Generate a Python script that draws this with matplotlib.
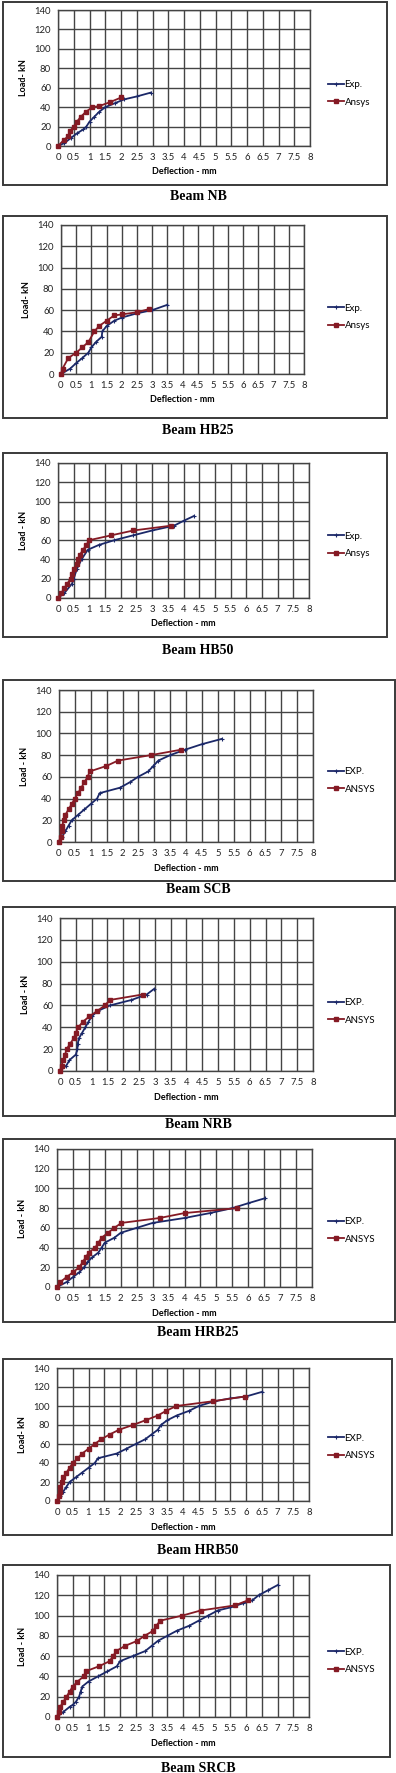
import matplotlib
matplotlib.use("Agg")
import matplotlib.pyplot as plt
from matplotlib.patches import Rectangle

# ---- data (deflection mm, load kN) ----
nb_exp_x = [0, 0.2, 0.4, 0.6, 0.8, 0.9, 1.0, 1.15, 1.3, 1.5, 1.8, 2.1, 2.5, 2.95]
nb_exp_y = [0, 3, 8, 13, 17, 20, 25, 30, 35, 40, 44, 48, 51, 55]
nb_ans_x = [0, 0.18, 0.32, 0.37, 0.5, 0.6, 0.72, 0.88, 1.09, 1.3, 1.64, 2.01]
nb_ans_y = [0, 6, 10, 15, 20, 25, 30, 35, 40, 41, 45, 50]

hb25_exp_x = [0, 0.3, 0.49, 0.7, 0.9, 1.0, 1.15, 1.34, 1.36, 1.5, 1.75, 2.0, 2.5, 3.0, 3.5]
hb25_exp_y = [0, 5, 10, 15, 20, 25, 30, 35, 40, 45, 50, 53, 57, 60, 65]
hb25_ans_x = [0, 0.05, 0.24, 0.5, 0.7, 0.9, 1.1, 1.25, 1.5, 1.75, 2.0, 2.5, 2.9]
hb25_ans_y = [0, 5, 15, 20, 25, 30, 40, 45, 50, 55, 56, 58, 61]

hb50_exp_x = [0, 0.2, 0.45, 0.5, 0.6, 0.75, 0.95, 1.3, 1.8, 2.4, 3.0, 3.7, 4.0, 4.33]
hb50_exp_y = [0, 5, 15, 20, 30, 40, 50, 55, 60, 65, 70, 75, 80, 85]
hb50_ans_x = [0, 0.1, 0.2, 0.3, 0.4, 0.45, 0.5, 0.6, 0.65, 0.7, 0.8, 0.9, 1.0,
              1.7, 2.4, 3.6]
hb50_ans_y = [0, 5, 10, 15, 20, 25, 30, 35, 40, 45, 50, 55, 60, 65, 70, 75]

scb_exp_x = [0, 0.1, 0.2, 0.3, 0.4, 0.6, 0.8, 1.0, 1.2, 1.28, 1.92, 2.23, 2.49,
             2.81, 2.97, 3.13, 3.5, 3.97, 4.49, 5.13]
scb_exp_y = [0, 5, 10, 15, 20, 25, 30, 35, 40, 45, 50, 55, 60, 65, 70, 75, 80,
             85, 90, 95]
scb_ans_x = [0, 0.05, 0.08, 0.1, 0.15, 0.2, 0.3, 0.4, 0.5, 0.6, 0.7, 0.8, 0.9,
             0.97, 1.49, 1.86, 2.89, 3.84]
scb_ans_y = [0, 5, 10, 15, 20, 25, 30, 35, 40, 45, 50, 55, 60, 65, 70, 75, 80, 85]

nrb_exp_x = [0, 0.2, 0.3, 0.5, 0.55, 0.56, 0.6, 0.7, 0.8, 0.9, 1.0, 1.2, 1.58,
             2.26, 2.74, 2.97]
nrb_exp_y = [0, 5, 10, 15, 20, 25, 30, 35, 40, 45, 50, 55, 60, 65, 70, 75]
nrb_ans_x = [0, 0.05, 0.1, 0.16, 0.21, 0.32, 0.44, 0.5, 0.58, 0.72, 0.93, 1.18,
             1.42, 1.58, 2.61]
nrb_ans_y = [0, 5, 10, 15, 20, 25, 30, 35, 40, 45, 50, 55, 60, 65, 70]

hrb25_exp_x = [0, 0.3, 0.5, 0.7, 0.85, 0.95, 1.1, 1.3, 1.4, 1.5, 1.8, 2.0, 2.5,
               3.0, 4.0, 4.8, 5.5, 6.0, 6.52]
hrb25_exp_y = [0, 5, 10, 15, 20, 25, 30, 35, 40, 45, 50, 55, 60, 65, 70, 75, 80,
               85, 90]
hrb25_ans_x = [0, 0.1, 0.3, 0.5, 0.7, 0.8, 0.9, 1.0, 1.2, 1.3, 1.4, 1.6, 1.8,
               2.02, 3.22, 4.0, 5.65]
hrb25_ans_y = [0, 5, 10, 15, 20, 25, 30, 35, 40, 45, 50, 55, 60, 65, 70, 75, 80]

hrb50_exp_x = [0, 0.1, 0.2, 0.3, 0.4, 0.6, 0.8, 1.0, 1.2, 1.3, 1.9, 2.2, 2.5,
               2.8, 3.0, 3.2, 3.3, 3.5, 3.8, 4.2, 4.5, 5.0, 5.5, 6.0, 6.52]
hrb50_exp_y = [0, 5, 10, 15, 20, 25, 30, 35, 40, 45, 50, 55, 60, 65, 70, 75, 80,
               85, 90, 95, 100, 105, 108, 110, 115]
hrb50_ans_x = [0, 0.05, 0.08, 0.1, 0.15, 0.2, 0.3, 0.4, 0.5, 0.65, 0.8, 1.0,
               1.2, 1.4, 1.67, 1.97, 2.41, 2.81, 3.2, 3.47, 3.79, 4.95, 5.96]
hrb50_ans_y = [0, 5, 10, 15, 20, 25, 30, 35, 40, 45, 50, 55, 60, 65, 70, 75, 80,
               85, 90, 95, 100, 105, 110]

srcb_exp_x = [0, 0.2, 0.4, 0.5, 0.6, 0.7, 0.75, 0.8, 1.0, 1.3, 1.6, 1.9, 2.0,
              2.4, 2.8, 3.0, 3.2, 3.5, 3.8, 4.2, 4.5, 4.8, 5.1, 5.5, 5.9, 6.2,
              6.4, 6.7, 7.0]
srcb_exp_y = [0, 5, 10, 12, 15, 20, 25, 30, 35, 40, 45, 50, 55, 60, 65, 70, 75,
              80, 85, 90, 95, 100, 105, 108, 112, 115, 120, 125, 130]
srcb_ans_x = [0, 0.05, 0.1, 0.2, 0.3, 0.4, 0.5, 0.65, 0.85, 0.91, 1.33, 1.67,
              1.78, 1.88, 2.15, 2.54, 2.78, 3.05, 3.15, 3.28, 3.98, 4.56, 5.64,
              6.06]
srcb_ans_y = [0, 5, 10, 15, 20, 25, 30, 35, 40, 45, 50, 55, 60, 65, 70, 75, 80,
              85, 90, 95, 100, 105, 110, 115]

captions = ["Beam NB", "Beam HB25", "Beam HB50", "Beam SCB", "Beam NRB",
            "Beam HRB25", "Beam HRB50", "Beam SRCB"]
ylabels = ["Load- kN", "Load- kN", "Load - kN", "Load - kN", "Load - kN",
           "Load - kN", "Load- kN", "Load - kN"]
exp_names = ["Exp.", "Exp.", "Exp.", "EXP.", "EXP.", "EXP.", "EXP.", "EXP."]
ans_names = ["Ansys", "Ansys", "Ansys", "ANSYS", "ANSYS", "ANSYS", "ANSYS",
             "ANSYS"]
series = [
    (nb_exp_x, nb_exp_y, nb_ans_x, nb_ans_y),
    (hb25_exp_x, hb25_exp_y, hb25_ans_x, hb25_ans_y),
    (hb50_exp_x, hb50_exp_y, hb50_ans_x, hb50_ans_y),
    (scb_exp_x, scb_exp_y, scb_ans_x, scb_ans_y),
    (nrb_exp_x, nrb_exp_y, nrb_ans_x, nrb_ans_y),
    (hrb25_exp_x, hrb25_exp_y, hrb25_ans_x, hrb25_ans_y),
    (hrb50_exp_x, hrb50_exp_y, hrb50_ans_x, hrb50_ans_y),
    (srcb_exp_x, srcb_exp_y, srcb_ans_x, srcb_ans_y),
]
x_ticks = [i * 0.5 for i in range(17)]
y_ticks = list(range(0, 141, 20))

# ---- layout in pixels: box top, box bottom, box right,
#      plot left, plot right, plot top, plot bottom, caption y ----
layout = [
    (2, 185, 387, 58, 310, 10, 146, 197),
    (216, 418, 387, 61, 304, 225, 374, 430),
    (453, 637, 387, 58, 309, 463, 598, 651),
    (680, 881, 395, 59, 313, 690, 842, 889),
    (907, 1116, 395, 60, 313, 918, 1071, 1125),
    (1139, 1322, 395, 57, 312, 1149, 1287, 1332),
    (1359, 1535, 392, 57, 309, 1368, 1501, 1550),
    (1565, 1757, 390, 57, 309, 1575, 1717, 1769),
]

W, H = 396, 1773
EXP_C = "#1b2868"
ANS_C = "#851a24"
GRID_C = "#444444"
SANS = ["Lato", "DejaVu Sans"]

fig = plt.figure(figsize=(W / 100, H / 100), dpi=100)
fig.patch.set_facecolor("white")


def fx(px):
    return px / W


def fy(py):
    return 1 - py / H


for i, (bt, bb, br, pl, pr, pt, pb, cy) in enumerate(layout):
    fig.patches.append(Rectangle((fx(3), fy(bb)), fx(br - 3), (bb - bt) / H,
                                 transform=fig.transFigure, fill=False,
                                 edgecolor="#3a3a3a", linewidth=1.4))
    ax = fig.add_axes([fx(pl), fy(pb), fx(pr - pl), (pb - pt) / H])
    ex, ey, ansx, ansy = series[i]
    ax.plot(ex, ey, color=EXP_C, linewidth=1.3, marker="+", markersize=2.5,
            markeredgewidth=0.8, label=exp_names[i], clip_on=False, zorder=3)
    ax.plot(ansx, ansy, color=ANS_C, linewidth=1.3, marker="s", markersize=2.6,
            label=ans_names[i], clip_on=False, zorder=4)
    ax.set_xlim(0, 8)
    ax.set_ylim(0, 140)
    ax.set_xticks(x_ticks)
    ax.set_xticklabels([f"{t:g}" for t in x_ticks], family=SANS, fontsize=6.8)
    ax.set_yticks(y_ticks)
    ax.set_yticklabels([str(t) for t in y_ticks], family=SANS, fontsize=6.8)
    ax.tick_params(length=0, pad=5, colors="#222222")
    ax.grid(True, color=GRID_C, linewidth=1.0)
    ax.set_axisbelow(True)
    for s in ax.spines.values():
        s.set_color(GRID_C)
        s.set_linewidth(1.0)
    ax.set_xlabel("Deflection - mm", family=SANS, fontsize=6.5,
                  fontweight="bold", labelpad=4)
    ax.set_ylabel(ylabels[i], family=SANS, fontsize=6.5, fontweight="bold",
                  labelpad=5)
    ax.legend(loc="center left", bbox_to_anchor=(fx(328), fy((bt + bb) / 2)),
              bbox_transform=fig.transFigure, frameon=False,
              prop={"family": SANS, "size": 7}, handlelength=1.6,
              handletextpad=0.1, labelspacing=0.9, borderaxespad=0,
              borderpad=0)
    fig.text(0.5, fy(cy), captions[i], ha="center", va="center",
             family="Liberation Serif", fontweight="bold", fontsize=10)

fig.savefig("out.png", dpi=100)
